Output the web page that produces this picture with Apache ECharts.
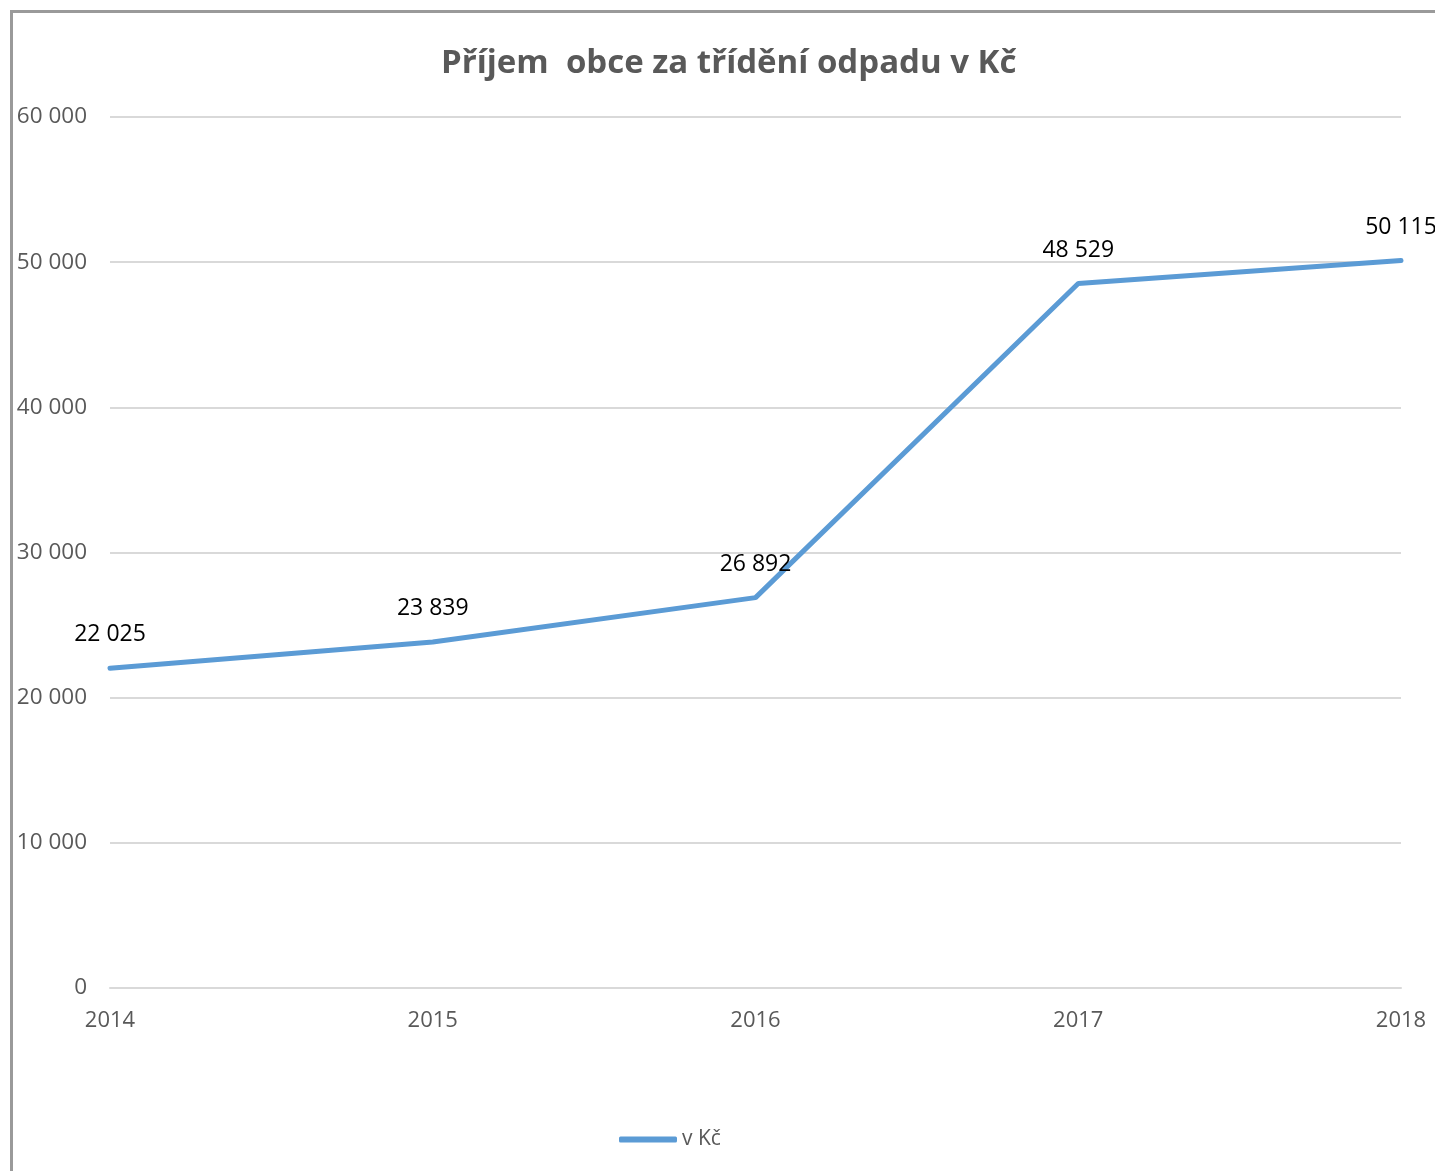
<!DOCTYPE html>
<html>
<head>
<meta charset="utf-8">
<script src="https://cdn.jsdelivr.net/npm/echarts@6/dist/echarts.min.js"></script>
<style>
html, body { margin: 0; padding: 0; background: #fff; }
#chart { width: 1435px; height: 1171px; }
</style>
</head>
<body>
<div id="chart"></div>
<script>
var years = ['2014', '2015', '2016', '2017', '2018'];
var prijem = [22025, 23839, 26892, 48529, 50115];
var yTicks = [0, 10000, 20000, 30000, 40000, 50000, 60000];

// mezera jako oddělovač tisíců
function fmt(v) {
    return String(v).replace(/\B(?=(\d{3})+(?!\d))/g, ' ');
}

var font = '"Open Sans", "Noto Sans", sans-serif';

var chart = echarts.init(document.getElementById('chart'));
chart.setOption({
    animation: false,
    textStyle: { fontFamily: font },
    graphic: [{
        type: 'rect',
        shape: { x: 11.5, y: 11.5, width: 1600, height: 1400 },
        style: { fill: 'none', stroke: '#9a9a9a', lineWidth: 3 },
        silent: true
    }],
    title: {
        text: 'Příjem  obce za třídění odpadu v Kč',
        left: 436,
        top: 42,
        textStyle: { fontFamily: font, fontSize: 33, fontWeight: 'bold', color: '#595959' }
    },
    legend: {
        bottom: 16,
        left: 614,
        itemWidth: 58,
        itemHeight: 6,
        itemGap: 5,
        icon: 'roundRect',
        data: ['v Kč'],
        textStyle: { fontFamily: font, fontSize: 21, color: '#595959' }
    },
    grid: { left: 110, right: 34, top: 117, bottom: 183, containLabel: false },
    xAxis: {
        type: 'category',
        boundaryGap: false,
        data: years,
        axisLine: { lineStyle: { color: '#d9d9d9', width: 2 } },
        axisTick: { show: false },
        axisLabel: { fontSize: 22, color: '#595959', margin: 22 }
    },
    yAxis: {
        type: 'value',
        min: yTicks[0],
        max: yTicks[yTicks.length - 1],
        interval: 10000,
        axisLine: { show: false },
        axisTick: { show: false },
        splitLine: { lineStyle: { color: '#d9d9d9', width: 2 } },
        axisLabel: { fontSize: 22.5, color: '#595959', margin: 23, formatter: fmt }
    },
    series: [{
        name: 'v Kč',
        type: 'line',
        data: prijem,
        symbol: 'circle',
        symbolSize: 0,
        showSymbol: true,
        lineStyle: { color: '#5b9bd5', width: 5, cap: 'round' },
        itemStyle: { color: '#5b9bd5' },
        label: {
            show: true,
            position: 'top',
            distance: 22,
            fontSize: 23,
            color: '#000',
            fontFamily: font,
            formatter: function (p) { return fmt(p.value); }
        }
    }]
});
</script>
</body>
</html>
